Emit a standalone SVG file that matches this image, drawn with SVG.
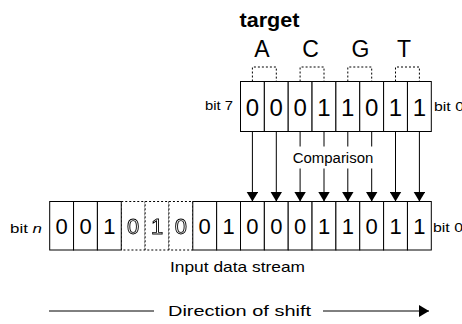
<svg xmlns="http://www.w3.org/2000/svg" width="462" height="324" viewBox="0 0 462 324">
<style>
text{font-family:"Liberation Sans",Arial,sans-serif;fill:#000}
.cell{fill:#fff;stroke:#000;stroke-width:1}
.dcell{fill:#fff;stroke:#000;stroke-width:1;stroke-dasharray:2,2}
.dig{font-size:24px;text-anchor:middle}
.ldig{font-size:22px;text-anchor:middle}
.hol{fill:#fff;stroke:#000;stroke-width:0.9}
.lbl{font-size:13px}
.br{fill:none;stroke:#000;stroke-width:1;stroke-dasharray:2,2}
.ln{stroke:#000;stroke-width:1;fill:none}
.base{font-size:23px;text-anchor:middle}
</style>
<defs>
<marker id="ah" markerWidth="10" markerHeight="12" refX="10" refY="6" orient="auto" markerUnits="userSpaceOnUse">
<path d="M0,0 L10,6 L0,12 Z" fill="#000"/>
</marker>
<filter id="gray" x="0" y="0" width="1" height="1">
<feColorMatrix type="saturate" values="0"/>
</filter>
</defs>

<g id="title">
<text x="239.5" y="27" style="font-size:20px;font-weight:bold" textLength="60" lengthAdjust="spacingAndGlyphs">target</text>
</g>

<g id="bases">
<text class="base" x="262" y="57">A</text>
<text class="base" x="310.5" y="57">C</text>
<text class="base" x="360.5" y="57">G</text>
<text class="base" x="404" y="57">T</text>
<path class="br" d="M252.4,81.5 V67 H276.3 V81.5"/>
<path class="br" d="M300.1,81.5 V67 H324 V81.5"/>
<path class="br" d="M347.8,81.5 V67 H371.7 V81.5"/>
<path class="br" d="M395.5,81.5 V67 H419.4 V81.5"/>
</g>

<g id="target-register">
<rect class="cell" x="240.5" y="81.5" width="23.85" height="50"/>
<rect class="cell" x="264.35" y="81.5" width="23.85" height="50"/>
<rect class="cell" x="288.2" y="81.5" width="23.85" height="50"/>
<rect class="cell" x="312.05" y="81.5" width="23.85" height="50"/>
<rect class="cell" x="335.9" y="81.5" width="23.85" height="50"/>
<rect class="cell" x="359.75" y="81.5" width="23.85" height="50"/>
<rect class="cell" x="383.6" y="81.5" width="23.85" height="50"/>
<rect class="cell" x="407.45" y="81.5" width="23.85" height="50"/>
<text class="dig" x="252.4" y="116">0</text>
<text class="dig" x="276.3" y="116">0</text>
<text class="dig" x="300.1" y="116">0</text>
<text class="dig" x="324" y="116">1</text>
<text class="dig" x="347.8" y="116">1</text>
<text class="dig" x="371.7" y="116">0</text>
<text class="dig" x="395.5" y="116">1</text>
<text class="dig" x="419.4" y="116">1</text>
<text class="lbl" x="205" y="110" textLength="28" lengthAdjust="spacingAndGlyphs">bit 7</text>
<text class="lbl" x="434" y="111" textLength="30" lengthAdjust="spacingAndGlyphs">bit 0</text>
</g>

<g id="connectors">
<line class="ln" x1="252.4" y1="131.5" x2="252.4" y2="201.5" marker-end="url(#ah)"/>
<line class="ln" x1="276.3" y1="131.5" x2="276.3" y2="201.5" marker-end="url(#ah)"/>
<line class="ln" x1="300.1" y1="131.5" x2="300.1" y2="146.5"/>
<line class="ln" x1="300.1" y1="168.5" x2="300.1" y2="201.5" marker-end="url(#ah)"/>
<line class="ln" x1="324" y1="131.5" x2="324" y2="146.5"/>
<line class="ln" x1="324" y1="168.5" x2="324" y2="201.5" marker-end="url(#ah)"/>
<line class="ln" x1="347.8" y1="131.5" x2="347.8" y2="146.5"/>
<line class="ln" x1="347.8" y1="168.5" x2="347.8" y2="201.5" marker-end="url(#ah)"/>
<line class="ln" x1="371.7" y1="131.5" x2="371.7" y2="146.5"/>
<line class="ln" x1="371.7" y1="168.5" x2="371.7" y2="201.5" marker-end="url(#ah)"/>
<line class="ln" x1="395.5" y1="131.5" x2="395.5" y2="201.5" marker-end="url(#ah)"/>
<line class="ln" x1="419.4" y1="131.5" x2="419.4" y2="201.5" marker-end="url(#ah)"/>
<text x="292.7" y="162.5" style="font-size:14px" textLength="80.6" lengthAdjust="spacingAndGlyphs">Comparison</text>
</g>

<g id="input-stream">
<rect class="dcell" x="121.25" y="201.5" width="23.85" height="48.5"/>
<rect class="dcell" x="145.1" y="201.5" width="23.85" height="48.5"/>
<rect class="dcell" x="168.95" y="201.5" width="23.85" height="48.5"/>
<rect class="cell" x="49.7" y="201.5" width="23.85" height="48.5"/>
<rect class="cell" x="73.55" y="201.5" width="23.85" height="48.5"/>
<rect class="cell" x="97.4" y="201.5" width="23.85" height="48.5"/>
<rect class="cell" x="192.8" y="201.5" width="23.85" height="48.5"/>
<rect class="cell" x="216.65" y="201.5" width="23.85" height="48.5"/>
<rect class="cell" x="240.5" y="201.5" width="23.85" height="48.5"/>
<rect class="cell" x="264.35" y="201.5" width="23.85" height="48.5"/>
<rect class="cell" x="288.2" y="201.5" width="23.85" height="48.5"/>
<rect class="cell" x="312.05" y="201.5" width="23.85" height="48.5"/>
<rect class="cell" x="335.9" y="201.5" width="23.85" height="48.5"/>
<rect class="cell" x="359.75" y="201.5" width="23.85" height="48.5"/>
<rect class="cell" x="383.6" y="201.5" width="23.85" height="48.5"/>
<rect class="cell" x="407.45" y="201.5" width="23.85" height="48.5"/>
<text class="ldig" x="61.6" y="233.5">0</text>
<text class="ldig" x="85.5" y="233.5">0</text>
<text class="ldig" x="109.3" y="233.5">1</text>
<g filter="url(#gray)">
<text class="ldig hol" x="133.2" y="233.5">0</text>
<text class="ldig hol" x="157" y="233.5">1</text>
<text class="ldig hol" x="180.9" y="233.5">0</text>
</g>
<text class="ldig" x="204.7" y="233.5">0</text>
<text class="ldig" x="228.6" y="233.5">1</text>
<text class="ldig" x="252.4" y="233.5">0</text>
<text class="ldig" x="276.3" y="233.5">0</text>
<text class="ldig" x="300.1" y="233.5">0</text>
<text class="ldig" x="324" y="233.5">1</text>
<text class="ldig" x="347.8" y="233.5">1</text>
<text class="ldig" x="371.7" y="233.5">0</text>
<text class="ldig" x="395.5" y="233.5">1</text>
<text class="ldig" x="419.4" y="233.5">1</text>
<text class="lbl" x="10" y="233" textLength="32" lengthAdjust="spacingAndGlyphs">bit <tspan style="font-style:italic">n</tspan></text>
<text class="lbl" x="433" y="231.5" textLength="30" lengthAdjust="spacingAndGlyphs">bit 0</text>
<text x="170" y="272" style="font-size:15px" textLength="135" lengthAdjust="spacingAndGlyphs">Input data stream</text>
</g>

<g id="shift-direction">
<line class="ln" x1="49" y1="311" x2="154" y2="311"/>
<text x="168" y="316" style="font-size:15px" textLength="143" lengthAdjust="spacingAndGlyphs">Direction of shift</text>
<line class="ln" x1="323" y1="311" x2="429" y2="311" marker-end="url(#ah)"/>
</g>
</svg>
